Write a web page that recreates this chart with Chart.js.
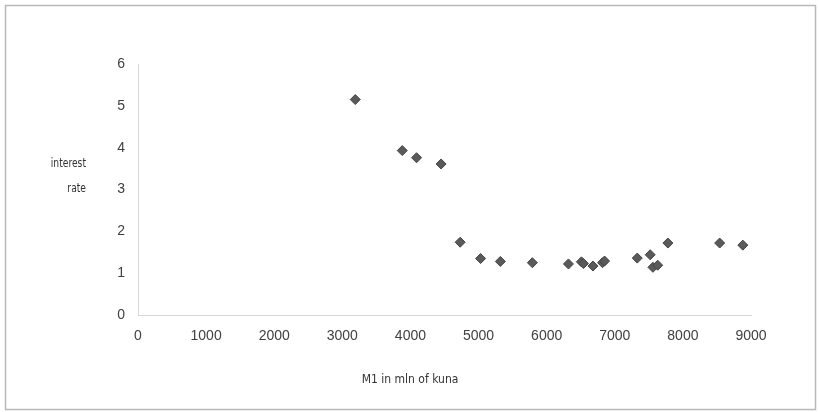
<!DOCTYPE html>
<html>
<head>
<meta charset="utf-8">
<script src="https://cdn.jsdelivr.net/npm/chart.js@4/dist/chart.umd.min.js"></script>
<style>
  html, body { margin: 0; padding: 0; background: #fff; }
  #wrap { width: 819px; height: 412px; }
</style>
</head>
<body>
<div id="wrap"><canvas id="scatterChart" width="819" height="412"></canvas></div>
<script>
// M1 (mln kuna) vs interest rate
const m1Values = [3190, 3880, 4090, 4450, 4730, 5030, 5320, 5790, 6320, 6510, 6540, 6680, 6820, 6850, 7330, 7520, 7560, 7630, 7780, 8540, 8880];
const rateValues = [5.15, 3.93, 3.76, 3.61, 1.74, 1.35, 1.28, 1.25, 1.22, 1.27, 1.23, 1.17, 1.25, 1.29, 1.36, 1.44, 1.14, 1.19, 1.72, 1.72, 1.67];
const xTicks = [0, 1000, 2000, 3000, 4000, 5000, 6000, 7000, 8000, 9000];
const yTicks = [0, 1, 2, 3, 4, 5, 6];

const xTitle = 'M1 in mln of kuna';
const yTitle = ['interest', 'rate'];

const TICK_FONT = '"Liberation Sans", Arial, sans-serif';
const TITLE_FONT = '"Liberation Sans Narrow", "DejaVu Sans Condensed", Arial, sans-serif';

const points = m1Values.map((x, i) => ({ x: x, y: rateValues[i] }));

// frame round the whole chart plus the two axis titles
const decorPlugin = {
    id: 'decor',
    beforeDraw(chart) {
        const ctx = chart.ctx;
        ctx.save();
        ctx.fillStyle = '#ffffff';
        ctx.fillRect(0, 0, chart.width, chart.height);
        ctx.strokeStyle = '#b8b8b8';
        ctx.lineWidth = 1.5;
        ctx.strokeRect(5.5, 5.5, chart.width - 9, chart.height - 8);
        ctx.restore();
    },
    afterDraw(chart) {
        const ctx = chart.ctx;
        ctx.save();
        ctx.fillStyle = '#333333';
        ctx.font = '12px ' + TITLE_FONT;
        ctx.textBaseline = 'middle';
        ctx.textAlign = 'center';
        ctx.fillText(xTitle, 410, 380);
        // y title is set narrower in the scan
        ctx.textAlign = 'right';
        ctx.translate(86, 0);
        ctx.scale(0.85, 1);
        ctx.fillText(yTitle[0], 0, 164);
        ctx.fillText(yTitle[1], 0, 189);
        ctx.restore();
    }
};

const ctx = document.getElementById('scatterChart').getContext('2d');
new Chart(ctx, {
    type: 'scatter',
    data: {
        datasets: [{
            data: points,
            pointStyle: 'rectRot',
            pointRadius: 5,
            pointBackgroundColor: '#5a5a5a',
            pointBorderColor: '#444444',
            pointBorderWidth: 1
        }]
    },
    options: {
        responsive: false,
        animation: false,
        layout: { padding: { left: 0, right: 68, top: 64, bottom: 0 } },
        plugins: {
            legend: { display: false },
            tooltip: { enabled: false }
        },
        scales: {
            x: {
                type: 'linear',
                min: 0,
                max: 9000,
                afterBuildTicks: (scale) => { scale.ticks = xTicks.map(v => ({ value: v })); },
                afterFit: (scale) => { scale.height = 97; },
                grid: { display: false, drawTicks: false },
                border: { display: true, color: '#d6d6d6', dash: [1, 5] },
                ticks: {
                    color: '#404040',
                    padding: 13,
                    font: { family: TICK_FONT, size: 14 },
                    callback: (v) => String(v)
                }
            },
            y: {
                type: 'linear',
                min: 0,
                max: 6,
                afterBuildTicks: (scale) => { scale.ticks = yTicks.map(v => ({ value: v })); },
                afterFit: (scale) => { scale.width = 138; },
                grid: { display: false, drawTicks: false },
                border: { display: true, color: '#d6d6d6', dash: [1, 5] },
                ticks: {
                    color: '#404040',
                    padding: 13,
                    font: { family: TICK_FONT, size: 14 },
                    callback: (v) => String(v)
                }
            }
        }
    },
    plugins: [decorPlugin]
});
</script>
</body>
</html>
